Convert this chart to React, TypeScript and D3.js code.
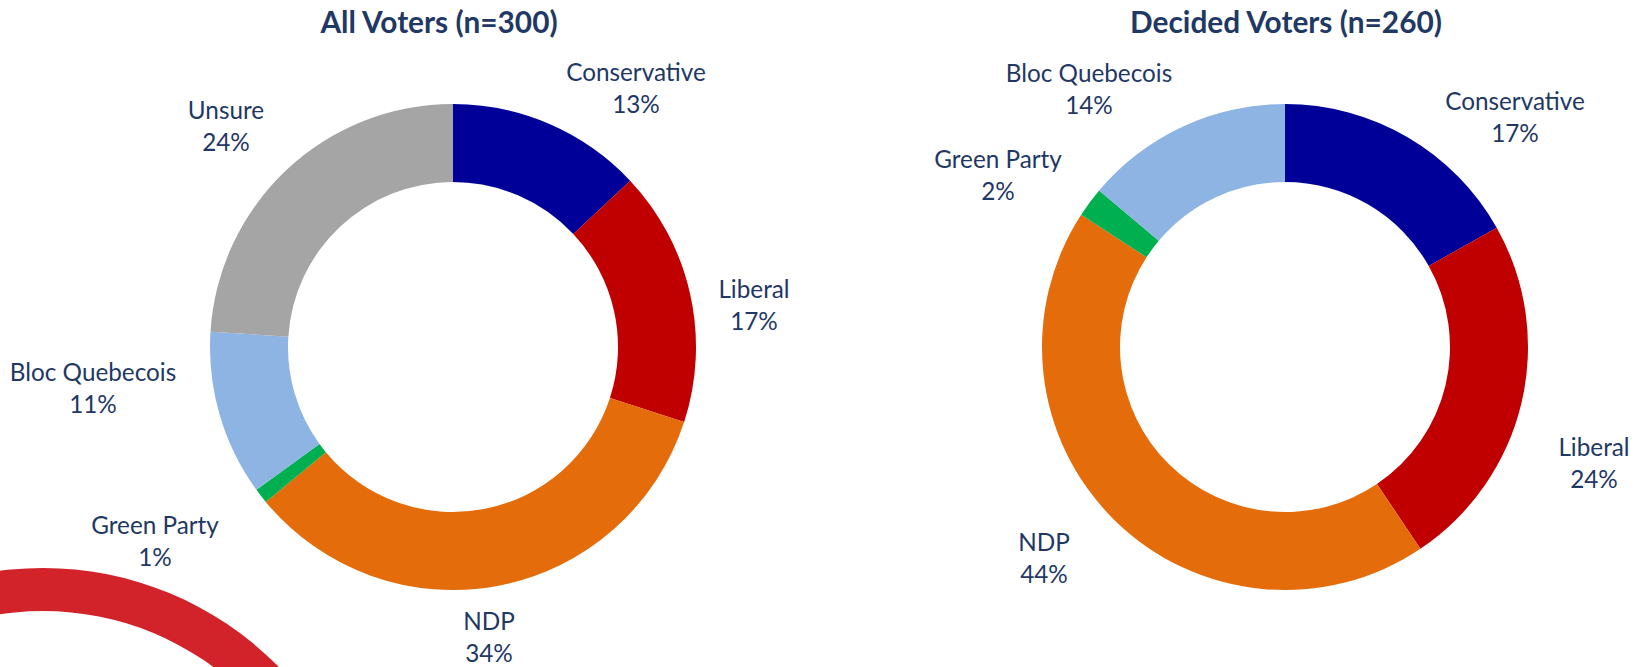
import React from "react";
import * as d3 from "d3";

// ---- data ----
const allCategories = ["Conservative", "Liberal", "NDP", "Green Party", "Bloc Quebecois", "Unsure"];
const allValues = [13, 17, 34, 1, 11, 24];
const decidedCategories = ["Conservative", "Liberal", "NDP", "Green Party", "Bloc Quebecois"];
const decidedValues = [17, 24, 44, 2, 14];
const titles = ["All Voters (n=300)", "Decided Voters (n=260)"];

// ---- style / layout ----
const W = 1644;
const H = 667;
const colorMap: Record<string, string> = {
  Conservative: "#000099",
  Liberal: "#C00000",
  NDP: "#E46C0A",
  "Green Party": "#00B050",
  "Bloc Quebecois": "#8DB4E2",
  Unsure: "#A5A5A5",
};
const TEXT = "#1F3864";
const FONT = "Lato, 'Open Sans', sans-serif";
const OUTER = 243;
const INNER = 165;
const LINE = 32;

// label anchor offsets (first baseline) relative to donut centre
const allLabelOffsets: [number, number][] = [
  [183, -266],
  [301, -49],
  [36, 283],
  [-298, 187],
  [-360, 34],
  [-227, -228],
];
const decidedLabelOffsets: [number, number][] = [
  [230, -237],
  [309, 109],
  [-241, 204],
  [-287, -179],
  [-196, -265],
];

const charts = [
  { cx: 453, cy: 347, titleX: 439, cats: allCategories, vals: allValues, offs: allLabelOffsets, title: titles[0] },
  { cx: 1285, cy: 347, titleX: 1286, cats: decidedCategories, vals: decidedValues, offs: decidedLabelOffsets, title: titles[1] },
];

function Donut({ c }: { c: (typeof charts)[number] }) {
  const pie = d3.pie<number>().sort(null).value((d) => d);
  const arcs = pie(c.vals);
  const arcGen = d3.arc<d3.PieArcDatum<number>>().innerRadius(INNER).outerRadius(OUTER);
  return (
    <g>
      <text
        x={c.titleX}
        y={33}
        textAnchor="middle"
        fontFamily={FONT}
        fontWeight="bold"
        fontSize={29.8}
        fill={TEXT}
      >
        {c.title}
      </text>
      <g transform={`translate(${c.cx},${c.cy})`}>
        {arcs.map((a, i) => (
          <path key={i} d={arcGen(a) || ""} fill={colorMap[c.cats[i]]} />
        ))}
        {arcs.map((a, i) => (
          <text
            key={"t" + i}
            x={c.offs[i][0]}
            y={c.offs[i][1]}
            textAnchor="middle"
            fontFamily={FONT}
            fontSize={24.3}
            fill={TEXT}
          >
            <tspan x={c.offs[i][0]}>{c.cats[i]}</tspan>
            <tspan x={c.offs[i][0]} dy={LINE}>
              {Math.round(c.vals[i])}%
            </tspan>
          </text>
        ))}
      </g>
    </g>
  );
}

export default function App() {
  const decoArc = d3.arc<any>()({ innerRadius: 287, outerRadius: 330, startAngle: 0, endAngle: 2 * Math.PI }) || "";
  return (
    <svg
      width={W}
      height={H}
      viewBox={`0 0 ${W} ${H}`}
      style={{ position: "absolute", left: 0, top: 0, background: "#fff" }}
    >
      <rect width={W} height={H} fill="#fff" />
      <path d={decoArc} transform="translate(43,898)" fill="#D2232B" />
      {charts.map((c, i) => (
        <Donut key={i} c={c} />
      ))}
    </svg>
  );
}
